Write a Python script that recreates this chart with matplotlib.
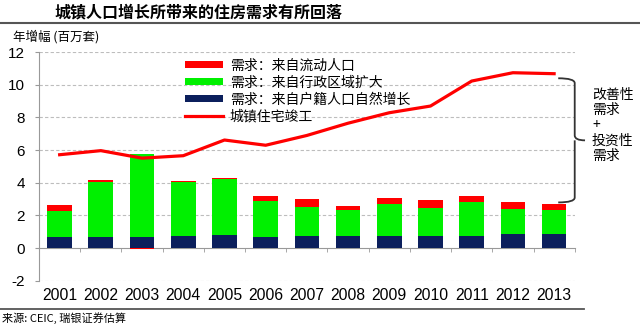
import matplotlib.pyplot as plt
import numpy as np
from matplotlib.path import Path
from matplotlib.patches import PathPatch

plt.rcParams['font.family'] = ['Noto Sans CJK SC', 'DejaVu Sans']
plt.rcParams['axes.unicode_minus'] = False

years = ['2001', '2002', '2003', '2004', '2005', '2006', '2007',
         '2008', '2009', '2010', '2011', '2012', '2013']
# 需求分解（百万套）
natural = [0.71, 0.71, 0.71, 0.75, 0.80, 0.71, 0.75, 0.73, 0.73, 0.73, 0.73, 0.86, 0.84]
admin = [1.58, 3.31, 5.04, 3.29, 3.42, 2.19, 1.78, 1.60, 1.98, 1.70, 2.09, 1.53, 1.47]
migrant = [0.38, 0.14, -0.08, 0.08, 0.07, 0.30, 0.47, 0.24, 0.35, 0.51, 0.36, 0.43, 0.40]
# 城镇住宅竣工
completions = [5.72, 5.97, 5.51, 5.66, 6.62, 6.30, 6.90, 7.65, 8.29, 8.70, 10.23, 10.74, 10.68]

RED = '#ff0000'
GREEN = '#00f000'
NAVY = '#0b1f5c'

fig = plt.figure(figsize=(6.4, 3.3), dpi=100)
ax = fig.add_axes([0.061, 0.149, 0.837, 0.693])

x = np.arange(len(years))
nat = np.array(natural)
adm = np.array(admin)
mig = np.array(migrant)
w = 0.6
b_nat = ax.bar(x, nat, w, color=NAVY, zorder=3)
b_adm = ax.bar(x, adm, w, bottom=nat, color=GREEN, zorder=3)
b_mig = ax.bar(x, mig, w, bottom=np.where(mig >= 0, nat + adm, 0), color=RED, zorder=3)
ln, = ax.plot(x, completions, color=RED, lw=2.3, zorder=4)

ax.set_xlim(-0.5, len(years) - 0.5)
ax.set_ylim(-2, 12)
ax.set_yticks(range(-2, 13, 2))
for v in range(-2, 13, 2):
    if v != 0:
        ax.axhline(v, color='#bdbdbd', lw=0.8, ls=(0, (3, 2)), zorder=1)

for s in ['top', 'right']:
    ax.spines[s].set_visible(False)
ax.spines['left'].set_color('#999999')
ax.spines['bottom'].set_position(('data', 0))
ax.spines['bottom'].set_color('#999999')
ax.set_xticks(x)
ax.set_xticklabels(years, family='Liberation Sans', fontsize=11.3)
ax.tick_params(axis='x', which='major', length=0, pad=29)
ax.set_xticks(np.arange(-0.5, len(years)), minor=True)
ax.tick_params(axis='x', which='minor', length=3, color='#999999', direction='out')
ax.tick_params(axis='y', length=3, color='#999999', labelsize=11, pad=7)
for t in ax.get_yticklabels():
    t.set_family('Liberation Sans')

ax.legend([b_mig, b_adm, b_nat, ln],
          ['需求：来自流动人口', '需求：来自行政区域扩大', '需求：来自户籍人口自然增长', '城镇住宅竣工'],
          loc='upper left', bbox_to_anchor=(0.255, 1.015), frameon=False, fontsize=10,
          handlelength=2.7, handleheight=0.45, labelspacing=0.22, borderpad=0.2,
          handletextpad=0.5)

# 右侧大括号
bx0, bx1, btip = 12.1, 12.5, 12.75
ytop, ymid, ybot = 10.4, 6.6, 2.8
verts = [(bx0, ytop), (bx1, ytop), (bx1, ytop - 0.3),
         (bx1, ymid + 0.3), (bx1, ymid), (btip, ymid),
         (bx1, ymid), (bx1, ymid - 0.3),
         (bx1, ybot + 0.3), (bx1, ybot), (bx0, ybot)]
codes = [Path.MOVETO, Path.CURVE3, Path.CURVE3,
         Path.LINETO, Path.CURVE3, Path.CURVE3,
         Path.MOVETO, Path.LINETO,
         Path.LINETO, Path.CURVE3, Path.CURVE3]
ax.add_patch(PathPatch(Path(verts, codes), fill=False, color='#333333', lw=1.3,
                       clip_on=False, zorder=5))

fig.text(0.925, 0.62, '改善性\n需求\n+\n投资性\n需求', fontsize=10, va='center',
         ha='left', linespacing=1.1)

fig.text(0.086, 0.962, '城镇人口增长所带来的住房需求有所回落', fontsize=11.5,
         fontweight='bold', va='center')
fig.add_artist(plt.Line2D([0, 1], [0.930, 0.930], color='#555555', lw=1.5))
fig.text(0.02, 0.89, '年增幅 (百万套)', fontsize=9, va='center')
fig.add_artist(plt.Line2D([0, 0.913], [0.064, 0.064], color='#555555', lw=1.3))
fig.text(0.003, 0.035, '来源: CEIC, 瑞银证券估算', fontsize=8, va='center')

fig.savefig('out.png', dpi=100)
